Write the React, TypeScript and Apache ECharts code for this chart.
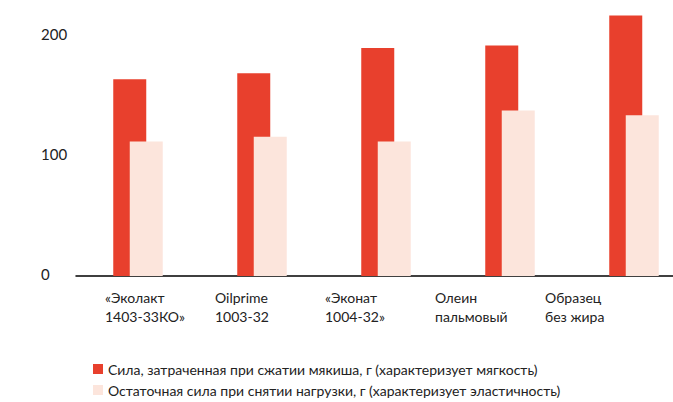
import React, { useEffect, useRef } from "react";
import * as echarts from "echarts";

const categories = [
  "«Эколакт\n1403-33КО»",
  "Oilprime\n1003-32",
  "«Эконат\n1004-32»",
  "Олеин\nпальмовый",
  "Образец\nбез жира",
];
const seriesNames = [
  "Сила, затраченная при сжатии мякиша, г (характеризует мягкость)",
  "Остаточная сила при снятии нагрузки, г (характеризует эластичность)",
];
const forceValues = [164, 169, 190, 192, 217];
const residualValues = [112, 116, 112, 138, 134];
const yTicks = [0, 100, 200];

const FONT = "Lato, 'Open Sans', sans-serif";
const TEXT = "#222";
const FS = 14;

export default function App() {
  const ref = useRef<HTMLDivElement>(null);
  useEffect(() => {
    if (!ref.current) return;
    const chart = echarts.init(ref.current, undefined, { renderer: "svg" });
    const legendCommon = {
      orient: "vertical",
      left: 88,
      itemWidth: 10,
      itemHeight: 10,
      itemGap: 6,
      icon: "rect",
      textStyle: { fontFamily: FONT, fontSize: FS, color: TEXT, lineHeight: 16 },
    };
    chart.setOption({
      animation: false,
      textStyle: { fontFamily: FONT },
      legend: [
        { ...legendCommon, top: 356, data: [seriesNames[0]] },
        { ...legendCommon, top: 377, data: [seriesNames[1]] },
      ],
      grid: [
        { left: 76, top: 0, width: 620, height: 276 },
        { left: 50, top: 0, width: 550, height: 276 },
      ],
      xAxis: [
        {
          type: "category",
          gridIndex: 0,
          data: categories,
          axisLine: { lineStyle: { color: "#000", width: 1.5 } },
          axisTick: { show: false },
          axisLabel: { show: false },
        },
        {
          type: "category",
          gridIndex: 1,
          data: categories,
          axisLine: { show: false },
          axisTick: { show: false },
          axisLabel: {
            interval: 0,
            align: "left",
            margin: 12,
            fontFamily: FONT,
            fontSize: FS,
            lineHeight: 19,
            color: TEXT,
          },
        },
      ],
      yAxis: [
        {
          type: "value",
          gridIndex: 0,
          min: yTicks[0],
          max: 230,
          interval: yTicks[1] - yTicks[0],
          axisLine: { show: false },
          axisTick: { show: false },
          splitLine: { show: false },
          axisLabel: {
            showMaxLabel: false,
            align: "left",
            verticalAlign: "bottom",
            lineHeight: 4,
            margin: 35,
            fontFamily: FONT,
            fontSize: 15,
            color: TEXT,
          },
        },
        { type: "value", gridIndex: 1, show: false, min: 0, max: 230 },
      ],
      series: [
        {
          name: seriesNames[0],
          type: "bar",
          xAxisIndex: 0,
          yAxisIndex: 0,
          data: forceValues,
          barWidth: 33,
          barGap: "-50%",
          itemStyle: { color: "#E8402D" },
          z: 1,
        },
        {
          name: seriesNames[1],
          type: "bar",
          xAxisIndex: 0,
          yAxisIndex: 0,
          data: residualValues,
          barWidth: 33,
          barGap: "-50%",
          itemStyle: { color: "#FCE5DC" },
          z: 2,
        },
      ],
    });
    return () => chart.dispose();
  }, []);
  return (
    <div style={{ position: "absolute", left: 0, top: 0, width: 673, height: 402, overflow: "hidden" }}>
      <div ref={ref} style={{ width: 700, height: 402 }} />
    </div>
  );
}
